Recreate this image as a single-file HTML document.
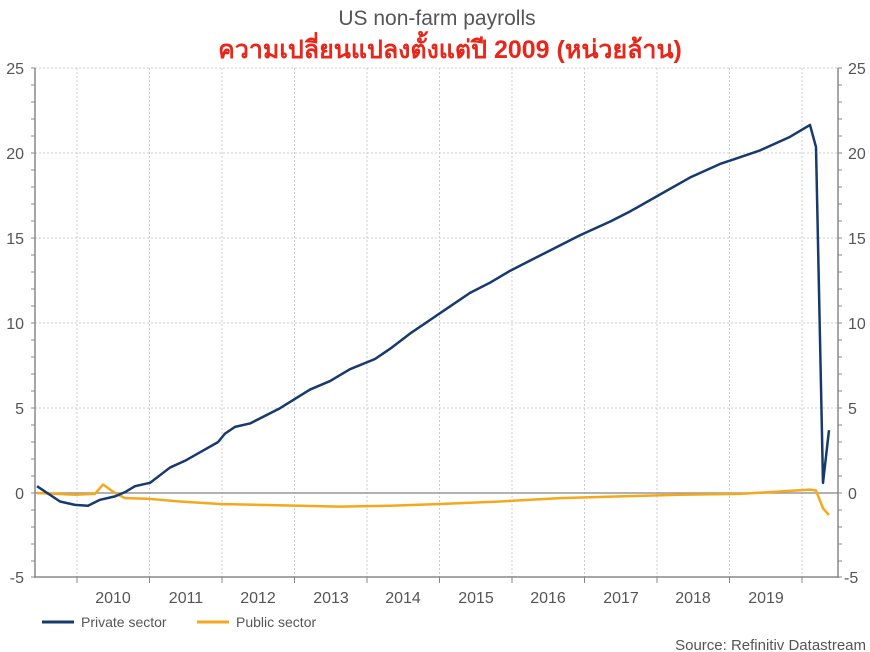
<!DOCTYPE html><html><head><meta charset="utf-8"><style>body{margin:0;background:#fff}svg{display:block}</style></head><body>
<svg width="870" height="652" xmlns="http://www.w3.org/2000/svg" font-family="Liberation Sans, Noto Sans CJK SC, sans-serif">
<text x="437" y="25" text-anchor="middle" font-size="21" fill="#555">US non-farm payrolls</text>
<text x="450" y="58" text-anchor="middle" font-size="25" font-weight="bold" fill="#e8261a">ความเปลี่ยนแปลงตั้งแต่ปี 2009 (หน่วยล้าน)</text>
<g stroke="#ccc" stroke-dasharray="2,2" stroke-width="1">
<line x1="35" x2="838" y1="68" y2="68"/><line x1="35" x2="838" y1="153" y2="153"/><line x1="35" x2="838" y1="238" y2="238"/><line x1="35" x2="838" y1="323" y2="323"/><line x1="35" x2="838" y1="408" y2="408"/>
<line x1="77" x2="77" y1="68" y2="577"/><line x1="149.5" x2="149.5" y1="68" y2="577"/><line x1="222" x2="222" y1="68" y2="577"/><line x1="294.5" x2="294.5" y1="68" y2="577"/><line x1="367" x2="367" y1="68" y2="577"/><line x1="439.5" x2="439.5" y1="68" y2="577"/><line x1="512" x2="512" y1="68" y2="577"/><line x1="584.5" x2="584.5" y1="68" y2="577"/><line x1="657" x2="657" y1="68" y2="577"/><line x1="729.5" x2="729.5" y1="68" y2="577"/><line x1="802" x2="802" y1="68" y2="577"/>
</g>
<line x1="35" x2="838" y1="493" y2="493" stroke="#999" stroke-width="1.5"/>
<g stroke="#888" stroke-width="1.5" fill="none">
<line x1="35" x2="35" y1="68" y2="578"/><line x1="838" x2="838" y1="68" y2="578"/><line x1="35" x2="838" y1="577" y2="577"/>
</g>
<g stroke="#888" stroke-width="1">
<path d="M31 68h4M31 85h4M31 102h4M31 119h4M31 136h4M31 153h4M31 170h4M31 187h4M31 204h4M31 221h4M31 238h4M31 255h4M31 272h4M31 289h4M31 306h4M31 323h4M31 340h4M31 357h4M31 374h4M31 391h4M31 408h4M31 425h4M31 442h4M31 459h4M31 476h4M31 493h4M31 510h4M31 527h4M31 544h4M31 561h4M31 577h4"/>
<path d="M838 68h4M838 85h4M838 102h4M838 119h4M838 136h4M838 153h4M838 170h4M838 187h4M838 204h4M838 221h4M838 238h4M838 255h4M838 272h4M838 289h4M838 306h4M838 323h4M838 340h4M838 357h4M838 374h4M838 391h4M838 408h4M838 425h4M838 442h4M838 459h4M838 476h4M838 493h4M838 510h4M838 527h4M838 544h4M838 561h4M838 577h4"/>
<path d="M77 577v6M149.5 577v6M222 577v6M294.5 577v6M367 577v6M439.5 577v6M512 577v6M584.5 577v6M657 577v6M729.5 577v6M802 577v6"/>
</g>
<g font-size="16" fill="#555" text-anchor="end">
<text x="24" y="74">25</text><text x="24" y="159">20</text><text x="24" y="244">15</text><text x="24" y="329">10</text><text x="24" y="414">5</text><text x="24" y="499">0</text><text x="24" y="583">-5</text>
</g>
<g font-size="16" fill="#555" text-anchor="start">
<text x="848" y="74">25</text><text x="848" y="159">20</text><text x="848" y="244">15</text><text x="848" y="329">10</text><text x="848" y="414">5</text><text x="848" y="499">0</text><text x="844" y="583">-5</text>
</g>
<g font-size="16" fill="#555" text-anchor="middle">
<text x="113" y="603">2010</text><text x="186" y="603">2011</text><text x="258" y="603">2012</text><text x="331" y="603">2013</text><text x="403" y="603">2014</text><text x="476" y="603">2015</text><text x="548" y="603">2016</text><text x="621" y="603">2017</text><text x="693" y="603">2018</text><text x="766" y="603">2019</text>
</g>
<g transform="translate(0,493) scale(1,-16.96)" fill="none" stroke-linejoin="round">
<polyline vector-effect="non-scaling-stroke" stroke="#f5a81c" stroke-width="2.5" points="37,0 75,-0.1 95,-0.05 103,0.5 115,0 125,-0.3 150,-0.35 180,-0.5 220,-0.65 260,-0.7 300,-0.75 340,-0.8 390,-0.75 440,-0.65 500,-0.5 560,-0.3 620,-0.2 680,-0.1 740,-0.05 770,0.05 810,0.2 816,0.15 823,-0.9 829,-1.3"/>
<polyline vector-effect="non-scaling-stroke" stroke="#173a6e" stroke-width="2.5" points="37,0.4 60,-0.5 75,-0.7 88,-0.75 100,-0.4 115,-0.2 125,0.05 135,0.4 150,0.6 170,1.5 185,1.9 200,2.4 218,3.0 225,3.5 235,3.9 250,4.1 280,5.0 310,6.1 330,6.6 350,7.3 375,7.9 390,8.5 410,9.4 430,10.2 445,10.8 470,11.8 490,12.4 510,13.1 530,13.7 550,14.3 580,15.2 610,16.0 630,16.6 660,17.6 690,18.6 720,19.4 735,19.7 760,20.2 790,21.0 810,21.7 816,20.4 823,0.6 829,3.7"/>
</g>
<line x1="42" x2="74" y1="622" y2="622" stroke="#173a6e" stroke-width="3"/>
<text x="81" y="627" font-size="14" fill="#555">Private sector</text>
<line x1="197" x2="229" y1="622" y2="622" stroke="#f5a81c" stroke-width="3"/>
<text x="236" y="627" font-size="14" fill="#555">Public sector</text>
<text x="866" y="650" text-anchor="end" font-size="15" fill="#555">Source: Refinitiv Datastream</text>
</svg></body></html>
